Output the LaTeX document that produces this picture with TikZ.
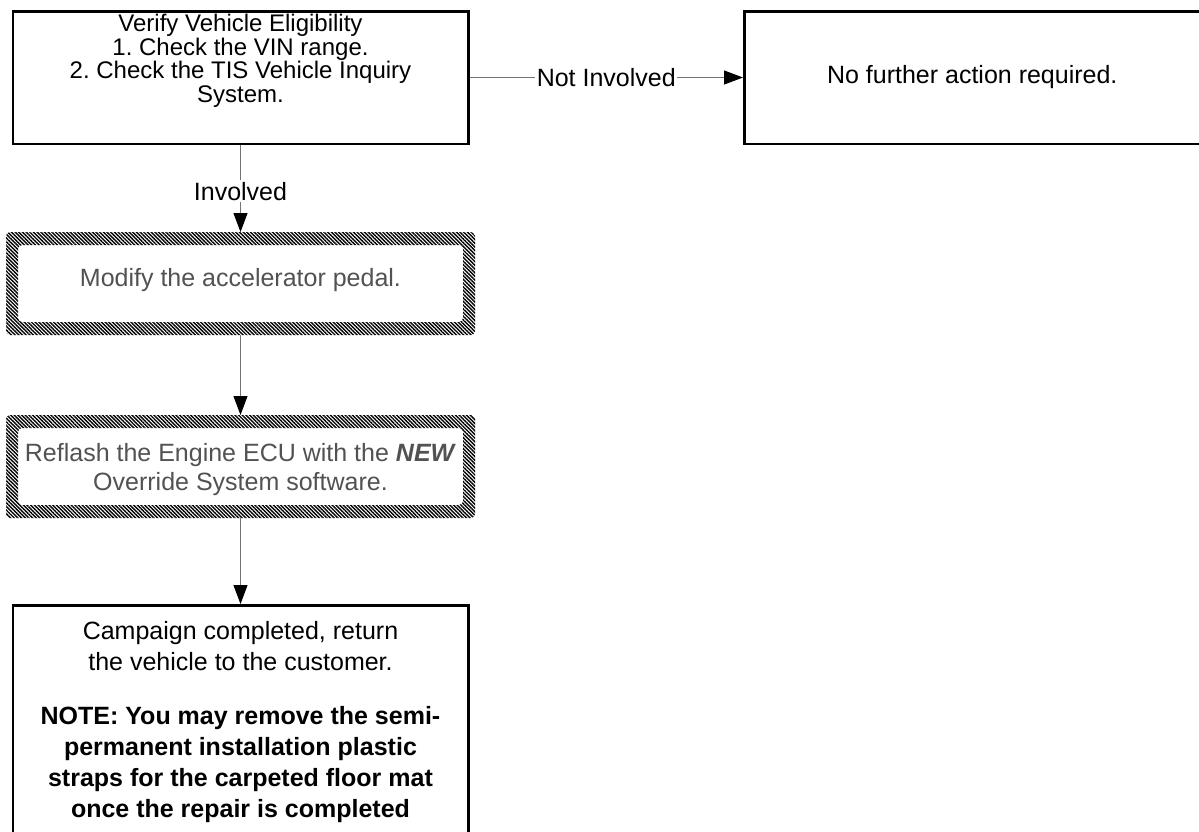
\documentclass[tikz,border=0pt]{standalone}
\usepackage{fontspec}
\setmainfont{Liberation Sans}
\usetikzlibrary{arrows.meta,patterns.meta}
\frenchspacing
\begin{document}
\begin{tikzpicture}[x=1pt,y=-1pt,
 box/.style={draw=black,line width=2.5pt,fill=white,inner sep=0},
 hbox/.style={inner sep=0,outer sep=0,minimum width=469pt,minimum height=103pt},
 hatch/.style={pattern={Lines[angle=-45,distance=2.6pt,line width=1.4pt]},pattern color=black,even odd rule,rounded corners=4pt},
 txt/.style={inner sep=0,align=center,font=\fontsize{25}{29}\selectfont},
 gtxt/.style={txt,text=black!68},
 conn/.style={draw=black!55,line width=1pt,-{Triangle[length=19pt,width=14pt,color=black]}},
 lbl/.style={fill=white,inner sep=1.5pt,font=\fontsize{25}{29}\selectfont}]
\useasboundingbox (0,0) rectangle (1199,831);
\clip (0,0) rectangle (1199,831);
\fill[white] (0,0) rectangle (1199,831);
% boxes
\node[box,minimum width=455.5pt,minimum height=132.5pt] (b1) at (240.5,77.5) {};
\node[txt,anchor=north,font=\fontsize{24}{23.5}\selectfont] (t1) at (240.5,14) {Verify Vehicle Eligibility\\1. Check the VIN range.\\2. Check the TIS Vehicle Inquiry\\System.};
\node[box,minimum width=456pt,minimum height=132.5pt,font=\fontsize{25}{29}\selectfont] (b5) at (972.25,77.5) {No further action required.};
\node[hbox] (b2) at (240.5,283.5) {};
\node[hbox] (b3) at (240.5,466.5) {};
\node[box,minimum width=455.5pt,minimum height=260pt] (b4) at (240.5,735.25) {};
% hatched borders
\fill[hatch] (b2.north west) rectangle (b2.south east) ([shift={(12,13)}]b2.north west) rectangle ([shift={(-12,-13)}]b2.south east);
\fill[hatch] (b3.north west) rectangle (b3.south east) ([shift={(12,13)}]b3.north west) rectangle ([shift={(-12,-13)}]b3.south east);
\node[gtxt,anchor=north] (t2) at (240.5,268.5) {Modify the accelerator pedal.};
\node[gtxt,anchor=north] (t3) at (240.5,443) {Reflash the Engine ECU with the \textbf{\textit{NEW}}\\Override System software.};
\node[txt,anchor=north,font=\fontsize{25}{31}\selectfont] (t4) at (240.5,621) {Campaign completed, return\\the vehicle to the customer.\\[23pt]\textbf{NOTE: You may remove the semi-}\\\textbf{permanent installation plastic}\\\textbf{straps for the carpeted floor mat}\\\textbf{once the repair is completed}};
% connectors
\draw[conn] (b1) -- node[lbl]{Not Involved} (b5);
\draw[conn] (b1) -- node[lbl,pos=0.53]{Involved} (b2);
\draw[conn] (b2) -- (b3);
\draw[conn] (b3) -- (b4);
\end{tikzpicture}
\end{document}
